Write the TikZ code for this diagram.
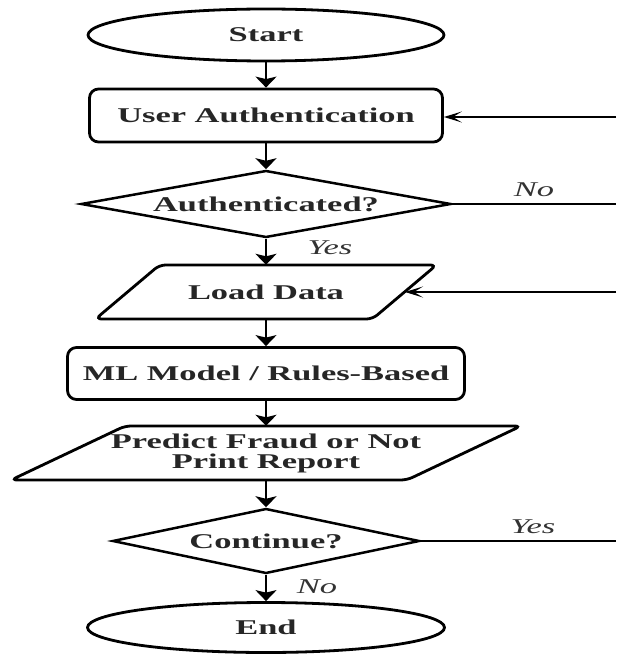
\documentclass[tikz,border=0pt]{standalone}
\usepackage{fontspec}
\setmainfont{Liberation Serif}[FakeStretch=1.64]
\usetikzlibrary{shapes.geometric,arrows.meta}

\begin{document}
\begin{tikzpicture}[x=1pt,y=-1pt,
  every node/.style={font=\fontsize{21}{20}\selectfont\bfseries, text=black!85},
  term/.style={ellipse, draw=black, line width=2.8pt, inner sep=0pt},
  proc/.style={rectangle, rounded corners=9pt, draw=black, line width=2.8pt, inner sep=0pt},
  decide/.style={diamond, draw=black, line width=2.5pt, inner sep=0pt},
  iobox/.style={draw=black, line width=2.8pt, rounded corners=6pt},
  iotext/.style={inner sep=0pt, minimum height=54pt, align=center},
  flow/.style={line width=2.3pt, -{Stealth[width=21pt,length=11pt,inset=2.5pt]}},
  back/.style={line width=1.4pt, -{Stealth[length=18pt,width=11pt,inset=9pt]}},
  lbl/.style={font=\fontsize{21}{20}\selectfont\itshape, text=black!80}
]
\useasboundingbox (0,0) rectangle (616,655);

% main column
\node[term, minimum width=356pt, minimum height=52pt] (start) at (266,35) {Start};
\node[proc, minimum width=353pt, minimum height=53pt] (auth) at (266,115.5) {User Authentication};
\node[decide, aspect=5.5, minimum width=370pt, minimum height=67pt] (isauth) at (266,204) {Authenticated?};

% Load Data (input/output parallelogram)
\node[iotext] (load) at (266,292) {Load Data};
\draw[iobox] (95.5,319) -- (159.5,265) -- (436.5,265) -- (372.5,319) -- cycle;
\coordinate (load-in) at (405,292);

\node[proc, minimum width=397pt, minimum height=52pt] (model) at (266,373.5) {ML Model / Rules-Based};

% Predict / report (input/output parallelogram)
\node[iotext] (predict) at (266,453) {Predict Fraud or Not\\Print Report};
\draw[iobox] (11,480) -- (125,426) -- (521,426) -- (407,480) -- cycle;

\node[decide, aspect=4.7, minimum width=307pt, minimum height=65pt] (cont) at (266,541) {Continue?};
\node[term, minimum width=357pt, minimum height=50pt] (stop) at (266,627.5) {End};

% vertical flow
\draw[flow] (start) -- (auth);
\draw[flow] (auth) -- (isauth);
\draw[flow] (isauth.south) -- (load.north);
\draw[flow] (load.south) -- (model.north);
\draw[flow] (model) -- (predict.north);
\draw[flow] (predict.south) -- (cont.north);
\draw[flow] (cont) -- (stop);

% branch labels
\node[lbl] (yes1) at (330,248) {Yes};
\node[lbl] (no1) at (534,190) {No};
\node[lbl] (yes2) at (533,527) {Yes};
\node[lbl] (no2) at (317,587) {No};

% return lines on the right
\coordinate (r-auth) at (616,117);
\coordinate (r-no) at (616,204);
\coordinate (r-load) at (616,292);
\coordinate (r-yes) at (616,541);
\draw[line width=1.4pt] (isauth.east) -- (r-no);
\draw[line width=1.4pt] (cont.east) -- (r-yes);
\draw[back] (r-auth) -- (auth.east |- r-auth);
\draw[back] (r-load) -- (load-in);
\end{tikzpicture}
\end{document}
